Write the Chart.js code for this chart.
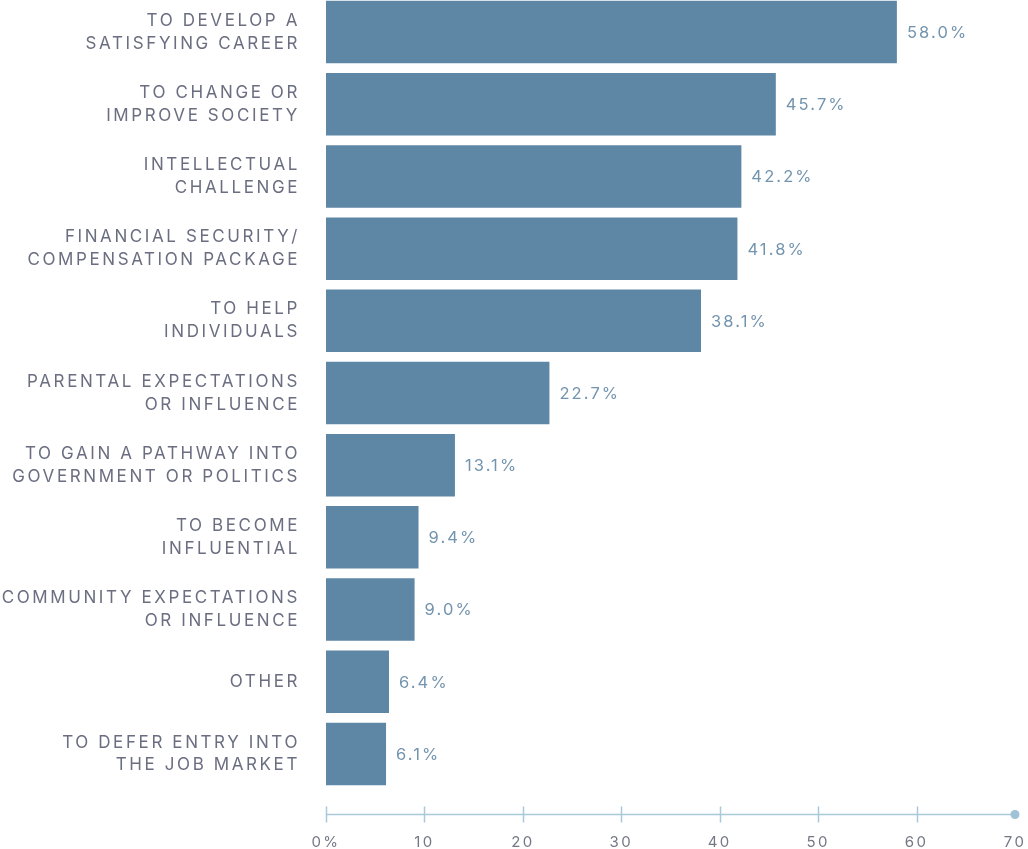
<!DOCTYPE html>
<html>
<head>
<meta charset="utf-8">
<script src="https://cdn.jsdelivr.net/npm/chart.js@4.4.1/dist/chart.umd.min.js"></script>
<style>
  html, body { margin: 0; padding: 0; background: #ffffff; overflow: hidden; }
  #wrap { position: absolute; left: 0; top: -4px; width: 1028px; height: 853px; }
</style>
</head>
<body>
<div id="wrap"><canvas id="chart"></canvas></div>
<script>
// Reasons given for choosing the programme (share of respondents, %)
const categories = [
  ['TO DEVELOP A', 'SATISFYING CAREER'],
  ['TO CHANGE OR', 'IMPROVE SOCIETY'],
  ['INTELLECTUAL', 'CHALLENGE'],
  ['FINANCIAL SECURITY/', 'COMPENSATION PACKAGE'],
  ['TO HELP', 'INDIVIDUALS'],
  ['PARENTAL EXPECTATIONS', 'OR INFLUENCE'],
  ['TO GAIN A PATHWAY INTO', 'GOVERNMENT OR POLITICS'],
  ['TO BECOME', 'INFLUENTIAL'],
  ['COMMUNITY EXPECTATIONS', 'OR INFLUENCE'],
  ['OTHER'],
  ['TO DEFER ENTRY INTO', 'THE JOB MARKET']
];
const shares = [58.0, 45.7, 42.2, 41.8, 38.1, 22.7, 13.1, 9.4, 9.0, 6.4, 6.1];
const axisTicks = [0, 10, 20, 30, 40, 50, 60, 70];
const axisTickLabels = ['0%', '10', '20', '30', '40', '50', '60', '70'];

const FONT = 'Inter, "Liberation Sans", sans-serif';
const BAR = '#5e87a6';
const AXIS = '#a9c9d9';

// Letter-spaced tick labels: wrap each scale's label drawing with tracking
const tracking = {
  id: 'tracking',
  beforeDraw(chart) {
    const spacing = { x: '2.4px', y: '2.6px' };
    for (const id of ['x', 'y']) {
      const s = chart.scales[id];
      if (s && !s._tracked) {
        const orig = s.drawLabels.bind(s);
        s.drawLabels = (area) => {
          chart.ctx.save();
          chart.ctx.letterSpacing = spacing[id];
          orig(area);
          chart.ctx.restore();
        };
        s._tracked = true;
      }
    }
  }
};

// Value labels at the end of each bar
const valueLabels = {
  id: 'valueLabels',
  afterDatasetsDraw(chart) {
    const ctx = chart.ctx;
    const meta = chart.getDatasetMeta(0);
    ctx.save();
    ctx.letterSpacing = '2.1px';
    ctx.font = '16.5px ' + FONT;
    ctx.fillStyle = '#7394ae';
    ctx.textAlign = 'left';
    ctx.textBaseline = 'middle';
    meta.data.forEach((bar, i) => {
      ctx.fillText(shares[i].toFixed(1) + '%', bar.x + 10, bar.y + 1);
    });
    ctx.restore();
  }
};

// Detached value axis: line with crossing ticks and an end dot
const valueAxis = {
  id: 'valueAxis',
  afterDraw(chart) {
    const ctx = chart.ctx;
    const x = chart.scales.x;
    const y0 = chart.chartArea.bottom + 24.5;
    const xStart = x.getPixelForValue(axisTicks[0]);
    const xEnd = x.getPixelForValue(axisTicks[axisTicks.length - 1]);
    ctx.save();
    ctx.strokeStyle = AXIS;
    ctx.lineWidth = 1.5;
    ctx.beginPath();
    ctx.moveTo(xStart, y0);
    ctx.lineTo(xEnd, y0);
    axisTicks.slice(0, -1).forEach(v => {
      const px = Math.round(x.getPixelForValue(v)) + 0.5;
      ctx.moveTo(px, y0 - 8);
      ctx.lineTo(px, y0 + 8);
    });
    ctx.stroke();
    ctx.fillStyle = '#9fc2d6';
    ctx.beginPath();
    ctx.arc(xEnd, y0, 4.5, 0, Math.PI * 2);
    ctx.fill();
    ctx.restore();
  }
};

new Chart(document.getElementById('chart'), {
  type: 'bar',
  data: {
    labels: categories,
    datasets: [{
      data: shares,
      backgroundColor: BAR,
      borderWidth: 0,
      barPercentage: 0.866,
      categoryPercentage: 1.0
    }]
  },
  options: {
    indexAxis: 'y',
    responsive: true,
    maintainAspectRatio: false,
    animation: false,
    layout: { padding: { left: 0, right: 13, top: 0, bottom: 0 } },
    plugins: {
      legend: { display: false },
      tooltip: { enabled: false }
    },
    scales: {
      x: {
        type: 'linear',
        min: 0,
        max: 70,
        border: { display: false },
        grid: { display: false, drawTicks: false },
        afterFit(scale) {
          scale.height = 59;
          scale.paddingLeft = 0;
          scale.paddingRight = 0;
        },
        afterBuildTicks(scale) { scale.ticks = axisTicks.map(v => ({ value: v })); },
        ticks: {
          autoSkip: false,
          maxRotation: 0,
          padding: 43,
          color: '#747886',
          font: { family: FONT, size: 15 },
          callback: (v) => axisTickLabels[axisTicks.indexOf(v)]
        }
      },
      y: {
        border: { display: false },
        grid: { display: false, drawTicks: false },
        afterFit(scale) {
          scale.width = 326;
          scale.paddingTop = 0;
          scale.paddingBottom = 0;
        },
        ticks: {
          padding: 26,
          color: '#6a6e80',
          font: { family: FONT, size: 17, lineHeight: 1.35 }
        }
      }
    }
  },
  plugins: [tracking, valueLabels, valueAxis]
});
</script>
</body>
</html>
